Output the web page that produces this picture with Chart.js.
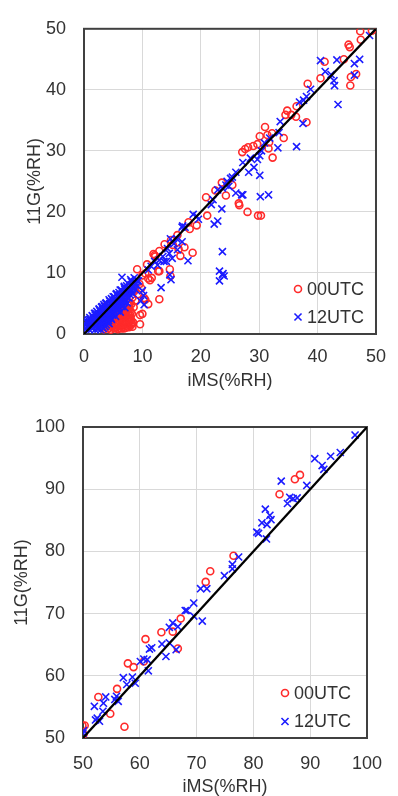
<!DOCTYPE html>
<html>
<head>
<meta charset="utf-8">
<script src="https://cdn.jsdelivr.net/npm/chart.js@4"></script>
<style>
body{margin:0;background:#fff;}
.box{position:absolute;left:0;width:398px;height:398px;}
</style>
</head>
<body>
<div class="box" style="top:0"><canvas id="c1" width="398" height="398"></canvas></div>
<div class="box" style="top:398px"><canvas id="c2" width="398" height="398"></canvas></div>
<script>
// ===================== Daten =====================
const legendLabels = ["00UTC", "12UTC"];
const xTitle = "iMS(%RH)";
const yTitle = "11G(%RH)";
const ticksLow = [0, 10, 20, 30, 40, 50];
const ticksHigh = [50, 60, 70, 80, 90, 100];
const diagLow = [0, 50];
const diagHigh = [50, 100];

// 00UTC, 0-50 %RH
const low00 = [
 [47.3,49.6],[49.3,49.7],[47.4,48.2],[45.3,47.4],[45.5,47.0],[44.5,45.0],[41.2,44.6],[40.5,41.9],[45.7,42.1],[46.6,42.6],
 [45.6,40.7],[38.3,41.0],[36.4,37.3],[34.8,36.6],[35.5,35.9],[34.5,35.9],[36.3,35.6],[38.1,34.7],[31.0,33.9],[32.2,32.9],
 [31.4,32.6],[30.1,32.4],[34.2,32.1],[31.7,31.4],[29.7,31.1],[29.0,30.8],[28.1,30.6],[27.6,30.3],[27.1,29.8],[31.6,30.4],
 [32.3,28.9],[23.6,24.8],[25.4,24.4],[24.3,22.7],[20.9,22.4],[22.5,23.5],[26.5,21.4],[28.0,20.0],[29.8,19.4],[30.3,19.4],
 [26.6,21.1],[21.1,19.4],[19.3,17.8],[17.9,18.3],[18.1,17.2],[18.6,13.3],[17.2,14.2],[16.5,12.8],[16.2,13.9],[14.9,15.4],
 [15.2,14.6],[13.8,14.7],[12.9,13.6],[11.9,13.1],[12.1,12.9],[12.9,10.3],[14.7,10.6],[14.8,9.5],[11.0,9.1],[11.3,8.8],
 [10.5,9.9],[10.8,11.4],[12.2,12.7],[16.0,16.2],[9.1,10.6],[11.6,9.2],[9.8,7.5],[12.9,5.7],[10.3,5.9],[9.6,3.1],
 [9.6,1.6],[7.9,5.1],[7.7,4.7],[8.1,2.2],[10.0,3.3],[10.5,5.6],[11.0,4.9],[12.7,10.3],[9.5,8.2],[10.0,9.6],
 [3.4,0.8],[4.1,0.9],[4.6,0.7],[5.2,0.9],[5.8,0.8],[6.4,0.9],[6.8,0.9],[3.9,1.4],[4.5,1.3],[5.1,1.5],
 [5.7,1.4],[6.3,1.3],[6.9,1.5],[7.4,1.2],[8.0,1.4],[4.3,2.0],[4.9,2.1],[5.5,1.9],[6.1,2.1],[6.7,2.0],
 [7.3,1.9],[7.8,2.1],[8.4,1.9],[4.8,2.7],[5.4,2.6],[6.0,2.8],[6.6,2.6],[7.2,2.8],[7.7,2.6],[5.3,3.4],
 [5.9,3.3],[6.5,3.5],[7.1,3.3],[7.6,3.5],[8.2,3.3],[5.9,4.1],[6.5,4.2],[7.1,4.0],[7.7,4.1],[6.3,4.8],
 [6.9,4.9],[7.5,4.7],[8.1,4.9],[3.9,4.7],[4.4,4.9],[5.0,5.3],[5.6,5.8],[6.2,6.1],[6.9,6.8],[7.5,7.6],
 [8.0,8.1],[8.6,7.0],[9.2,6.5],[8.8,5.5],[8.3,6.0],[8.7,7.3],[3.0,2.6],[2.8,1.2],[3.4,2.2],[6.5,5.9],
 [3.7,1.1],[4.3,1.0],[4.9,1.2],[5.5,1.1],[6.1,1.0],[6.6,1.2],[7.1,1.0],[7.7,1.1],[8.3,1.2],[4.6,1.7],
 [5.3,1.8],[5.9,1.7],[6.5,1.6],[7.1,1.7],[7.6,1.6],[8.2,1.7],[5.1,2.4],[5.7,2.3],[6.3,2.5],[6.9,2.3],
 [7.5,2.4],[8.0,2.5],[5.6,3.0],[6.2,3.1],[6.8,2.9],[7.4,3.0],[7.9,3.1],[6.2,3.8],[6.8,3.7],[7.4,3.8],
 [8.0,3.7],[8.5,4.4],[6.6,4.5],[7.3,4.4]
];

// 12UTC, 0-50 %RH
const low12 = [
 [48.9,48.9],[40.5,44.8],[43.3,44.9],[47.2,45.0],[46.3,44.3],[41.3,43.0],[42.3,42.5],[42.8,41.5],[42.9,40.7],[46.3,42.4],
 [43.5,37.6],[38.8,40.1],[38.1,38.9],[37.6,38.3],[36.9,38.0],[37.5,34.5],[33.6,34.8],[33.4,33.0],[36.4,30.7],[33.2,30.5],
 [31.8,32.1],[30.9,31.3],[30.4,30.0],[30.1,29.2],[29.7,28.6],[28.5,28.8],[27.2,28.1],[29.1,27.3],[28.2,26.5],[30.1,26.0],
 [26.0,26.5],[25.1,25.5],[24.3,24.4],[22.9,23.6],[26.0,23.1],[27.2,22.8],[30.2,22.5],[31.6,22.8],[25.4,25.7],[24.5,25.0],
 [24.8,24.2],[27.0,22.8],[23.7,23.9],[22.1,22.0],[21.8,21.2],[19.3,19.3],[19.6,18.8],[18.7,19.6],[22.9,18.5],[22.3,18.0],
 [23.6,20.5],[16.8,17.5],[17.3,17.5],[16.9,17.7],[14.8,15.6],[15.9,15.6],[16.8,15.1],[15.4,14.8],[14.3,14.0],[14.6,13.2],
 [15.1,12.4],[13.5,12.7],[12.9,12.1],[13.7,11.9],[12.6,11.3],[12.1,11.9],[11.5,11.1],[11.0,10.5],[17.8,12.0],[14.1,11.9],
 [16.0,13.8],[23.7,13.5],[23.7,9.7],[23.2,10.3],[23.8,9.9],[23.2,8.7],[24.0,9.5],[14.9,8.9],[13.2,7.6],[14.7,9.7],
 [6.5,9.3],[8.6,9.2],[9.1,8.7],[10.3,4.8],[10.0,7.1],[10.2,6.3],[9.7,5.4],
 [0.3,0.8],[0.9,0.7],[1.4,0.9],[1.9,0.7],[2.4,0.8],[2.9,0.7],[3.3,0.9],[0.2,1.6],[0.8,1.5],[1.3,1.7],
 [1.8,1.6],[2.3,1.5],[2.8,1.7],[3.3,1.6],[3.8,1.5],[4.3,1.7],[0.7,2.3],[1.2,2.2],[1.7,2.4],[2.2,2.3],
 [2.7,2.2],[3.2,2.4],[3.7,2.3],[4.2,2.2],[4.7,2.4],[1.4,3.0],[1.9,3.1],[2.4,2.9],[2.9,3.0],[3.4,3.1],
 [3.9,2.9],[4.4,3.0],[4.9,3.1],[5.4,2.9],[2.2,3.7],[2.7,3.8],[3.2,3.6],[3.7,3.7],[4.2,3.8],[4.7,3.6],
 [5.2,3.7],[5.7,3.8],[6.2,3.6],[3.0,4.4],[3.5,4.5],[4.0,4.3],[4.5,4.4],[5.0,4.5],[5.5,4.3],[6.0,4.4],
 [6.5,4.5],[7.0,4.3],[3.8,5.1],[4.4,5.0],[5.0,5.2],[5.6,5.1],[6.2,5.0],[6.8,5.2],[7.4,5.1],[4.7,5.8],
 [5.3,5.7],[5.9,5.9],[6.5,5.8],[7.1,5.7],[7.7,5.9],[5.5,6.5],[6.1,6.4],[6.7,6.6],[7.3,6.5],[7.9,6.4],
 [8.4,6.6],[6.4,7.2],[7.0,7.3],[7.6,7.1],[8.2,7.2],[8.8,7.3],[7.3,7.9],[7.9,8.0],[8.5,7.8],[9.1,7.9],
 [8.1,8.6],[8.7,8.5],[9.3,8.7],[0.3,1.5],[0.6,2.0],[1.0,2.4],[1.5,2.9],[2.0,3.4],[2.6,4.0],[3.1,4.5],
 [3.7,5.0],[4.3,5.6],[5.0,6.1],[5.6,6.6],[6.2,7.2],[6.9,7.8],[7.5,8.3],
 [0.6,1.1],[1.1,1.2],[1.6,1.1],[2.1,1.2],[2.6,1.1],[3.1,1.2],[3.6,1.2],[0.5,1.9],[1.0,1.9],[1.5,2.0],
 [2.0,1.9],[2.5,2.0],[3.0,1.9],[3.5,2.0],[4.0,1.9],[1.0,2.7],[1.6,2.6],[2.1,2.7],[2.6,2.6],[3.1,2.7],
 [3.6,2.6],[4.1,2.7],[4.6,2.6],[1.8,3.4],[2.4,3.3],[2.9,3.4],[3.5,3.3],[4.0,3.4],[4.5,3.3],[5.1,3.4],
 [2.6,4.1],[3.2,4.0],[3.8,4.1],[4.3,4.0],[4.9,4.1],[5.4,4.0],[6.0,4.1],[3.4,4.8],[4.1,4.7],[4.7,4.8],
 [5.3,4.7],[5.9,4.8],[6.6,4.8],[4.4,5.4],[5.0,5.5],[5.6,5.4],[6.3,5.5],[6.9,5.4],[5.2,6.1],[5.8,6.2],
 [6.4,6.1],[7.0,6.2],[7.5,6.0],[6.0,6.8],[6.7,6.9],[7.3,6.8],[8.0,6.9],[6.9,7.6],[7.6,7.5],[8.3,7.6],
 [8.0,8.9],[8.8,8.1]
];

// 00UTC, 50-100 %RH
const high00 = [
 [71.6,75.1],[72.4,76.8],[76.5,79.3],[84.6,89.2],[87.3,91.6],[88.2,92.3],[67.2,69.2],[63.8,67.0],[65.8,67.1],[66.7,64.4],
 [61.0,65.9],[60.7,62.3],[57.9,62.0],[58.9,61.4],[56.0,57.9],[52.7,56.6],[54.8,53.9],[57.3,51.8],[49.9,52.0],[50.3,52.0],
 [50.1,50.6]
];

// 12UTC, 50-100 %RH
const high12 = [
 [97.9,98.7],[95.3,95.9],[93.6,95.3],[90.8,94.9],[92.1,93.8],[92.4,93.2],[89.4,90.6],[84.9,91.3],[86.4,88.7],[86.0,87.7],
 [87.0,88.5],[87.7,88.6],[82.1,86.8],[82.9,85.8],[83.1,85.1],[81.5,84.6],[82.4,84.3],[80.6,83.1],[80.9,82.9],[82.3,82.0],
 [77.4,79.1],[76.3,77.9],[76.3,77.2],[74.9,76.1],[70.7,74.0],[71.8,74.0],[69.5,71.7],[68.0,70.5],[68.3,70.5],[71.0,68.8],
 [69.5,69.6],[65.8,68.5],[65.2,67.8],[66.7,67.9],[66.4,64.2],[63.9,65.1],[65.2,65.3],[64.6,63.1],[62.1,64.5],[61.7,64.3],
 [60.7,62.7],[60.1,62.3],[61.3,62.6],[61.5,60.8],[57.1,59.7],[58.7,59.8],[59.2,58.8],[57.7,58.6],[55.9,56.7],[56.2,55.9],
 [55.6,56.2],[54.0,56.6],[53.6,55.6],[53.5,54.3],[52.0,55.1],[52.5,53.2],[52.2,52.9],[52.9,52.7],[50.1,51.2],[50.0,50.8]
];

// ===================== Stil =====================
const FONT = "'Liberation Sans', Arial, sans-serif";
const TXT = "#333333";
const RED = "#ff2a2a";
const BLUE = "#1c1cff";
Chart.defaults.font.family = FONT;
Chart.defaults.color = TXT;

const pts = arr => arr.map(p => ({x: p[0], y: p[1]}));

// Rahmen um den Plotbereich
const frame = {
  id: "frame",
  beforeDatasetsDraw(chart){
    const a = chart.chartArea, ctx = chart.ctx;
    ctx.save();
    ctx.strokeStyle = "#404040";
    ctx.lineWidth = 2;
    ctx.strokeRect(a.left, a.top, a.right - a.left, a.bottom - a.top);
    ctx.restore();
  }
};

// Legende im Plotbereich unten rechts
const boxLegend = {
  id: "boxLegend",
  afterDraw(chart, args, opts){
    const ctx = chart.ctx;
    ctx.save();
    legendLabels.forEach((lab, i) => {
      const ds = chart.data.datasets.find(d => d.label === lab);
      const x = opts.x, y = opts.y + i * opts.gap;
      ctx.strokeStyle = ds.borderColor;
      ctx.fillStyle = "rgba(0,0,0,0)";
      ctx.lineWidth = ds.borderWidth;
      Chart.helpers.drawPoint(ctx, {pointStyle: ds.pointStyle, radius: ds.pointRadius, borderWidth: ds.borderWidth}, x, y);
      ctx.fillStyle = TXT;
      ctx.font = "18px " + FONT;
      ctx.textBaseline = "middle";
      ctx.textAlign = "left";
      ctx.fillText(lab, x + 9, y + 1);
    });
    ctx.restore();
  }
};

function makeChart(id, d00, d12, diag, ticks, L){
  return new Chart(document.getElementById(id), {
    type: "scatter",
    data: {
      datasets: [
        {label: "1:1", data: pts([[diag[0], diag[0]], [diag[1], diag[1]]]), showLine: true,
         borderColor: "#000", borderWidth: 2.2, pointRadius: 0, order: 0},
        {label: legendLabels[1], data: pts(d12), pointStyle: "crossRot", pointRadius: 5,
         borderColor: BLUE, backgroundColor: "rgba(0,0,0,0)", borderWidth: 1.6, order: 1},
        {label: legendLabels[0], data: pts(d00), pointStyle: "circle", pointRadius: 3.5,
         borderColor: RED, backgroundColor: "rgba(0,0,0,0)", borderWidth: 1.6, order: 2}
      ]
    },
    options: {
      responsive: false,
      animation: false,
      events: [],
      layout: {padding: {top: L.top, right: L.right, left: 0, bottom: 0}},
      plugins: {legend: {display: false}, tooltip: {enabled: false},
                boxLegend: {x: L.legX, y: L.legY, gap: L.legGap}},
      scales: {
        x: {
          type: "linear", min: ticks[0], max: ticks[ticks.length - 1],
          afterBuildTicks: s => { s.ticks = ticks.map(v => ({value: v})); },
          afterFit: s => { s.height = L.xh; },
          grid: {color: "#d9d9d9", lineWidth: 1, drawTicks: false},
          border: {display: false},
          ticks: {padding: L.xPad, font: {size: 18}, color: TXT},
          title: {display: true, text: xTitle, font: {size: 18, lineHeight: 1}, color: TXT,
                  padding: {top: 0, bottom: L.xTitlePad}}
        },
        y: {
          type: "linear", min: ticks[0], max: ticks[ticks.length - 1],
          afterBuildTicks: s => { s.ticks = ticks.map(v => ({value: v})); },
          afterFit: s => { s.width = L.yw; },
          grid: {color: "#d9d9d9", lineWidth: 1, drawTicks: false},
          border: {display: false},
          ticks: {padding: 18, font: {size: 18}, color: TXT},
          title: {display: true, text: yTitle, font: {size: 18, lineHeight: 1}, color: TXT,
                  padding: {top: L.yTitlePad, bottom: 0}}
        }
      }
    },
    plugins: [frame, boxLegend]
  });
}

makeChart("c1", low00, low12, diagLow, ticksLow,
  {top: 22, right: 13, xh: 64, yw: 84, xPad: 12, xTitlePad: 7.5, yTitlePad: 26,
   legX: 298, legY: 289, legGap: 28});
makeChart("c2", high00, high12, diagHigh, ticksHigh,
  {top: 29, right: 31, xh: 58, yw: 83, xPad: 15, xTitlePad: 0, yTitlePad: 13.5,
   legX: 285, legY: 295, legGap: 28.5});
</script>
</body>
</html>
